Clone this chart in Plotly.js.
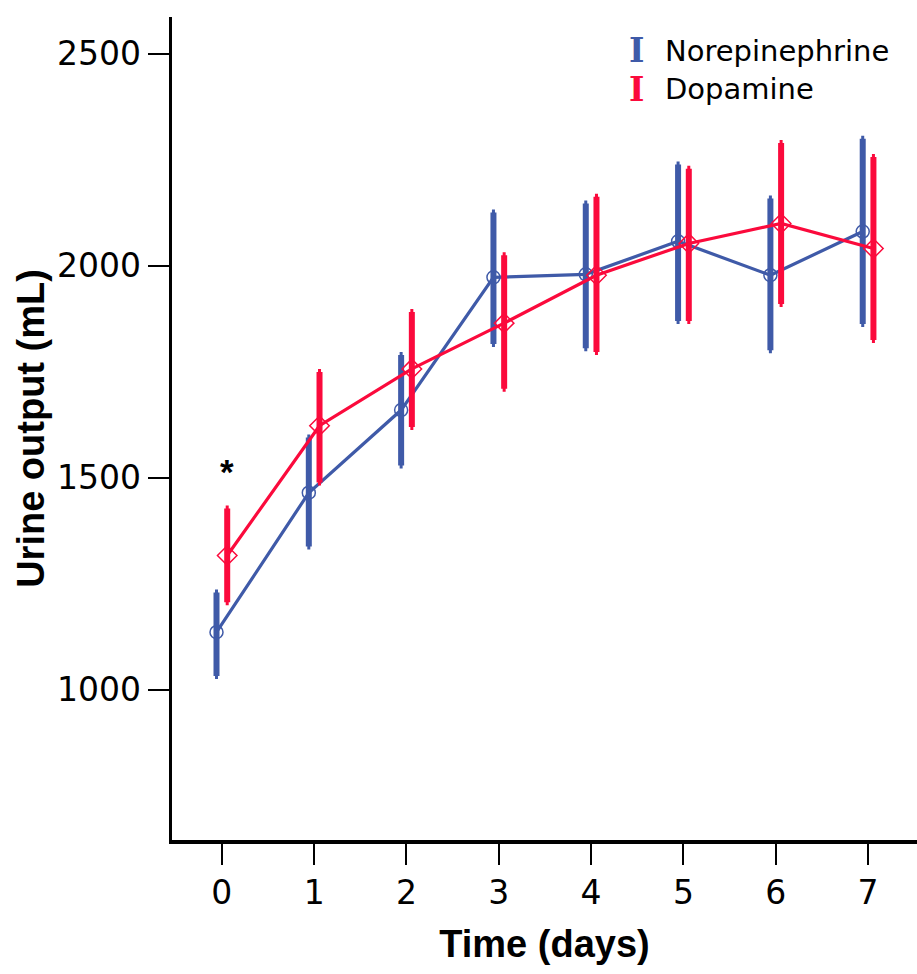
<!DOCTYPE html>
<html>
<head>
<meta charset="utf-8">
<script src="https://cdn.plot.ly/plotly-3.0.1.min.js"></script>
<style>html,body{margin:0;padding:0;background:#fff;}#chart{width:917px;height:974px;}</style>
</head>
<body>
<div id="chart"></div>
<script>
// Data
var days = [0, 1, 2, 3, 4, 5, 6, 7];
var tickLabels = ["0", "1", "2", "3", "4", "5", "6", "7"];
var norepiMean  = [1136, 1465, 1660, 1973, 1980, 2058, 1978, 2081];
var norepiUpper = [1230, 1595, 1790, 2126, 2147, 2239, 2159, 2300];
var norepiLower = [1033, 1338, 1529, 1816, 1806, 1870, 1801, 1863];
var dopaMean  = [1317, 1623, 1757, 1865, 1978, 2053, 2100, 2041];
var dopaUpper = [1428, 1750, 1891, 2025, 2163, 2229, 2290, 2257];
var dopaLower = [1207, 1489, 1620, 1710, 1797, 1870, 1910, 1825];
var seriesNames = ["Norepinephrine", "Dopamine"];
var significantDay = 0;

var BLUE = "#3f5aa8", RED = "#fb0a3c";
var dodge = 0.058;

function plus(u, m) { return u.map(function (v, i) { return v - m[i]; }); }
function minus(l, m) { return l.map(function (v, i) { return m[i] - v; }); }

var tNor = {
  x: days.map(function (d) { return d - dodge; }),
  y: norepiMean,
  name: seriesNames[0],
  type: "scatter",
  mode: "lines+markers",
  line: { color: BLUE, width: 3.2 },
  marker: { symbol: "circle-open", size: 13, color: BLUE, line: { width: 1.5, color: BLUE } },
  error_y: { type: "data", symmetric: false, array: plus(norepiUpper, norepiMean), arrayminus: minus(norepiLower, norepiMean), color: BLUE, thickness: 6, width: 1.5 },
  showlegend: false
};
var tDop = {
  x: days.map(function (d) { return d + dodge; }),
  y: dopaMean,
  name: seriesNames[1],
  type: "scatter",
  mode: "lines+markers",
  line: { color: RED, width: 3.2 },
  marker: { symbol: "diamond-open", size: 15, color: RED, line: { width: 1.5, color: RED } },
  error_y: { type: "data", symmetric: false, array: plus(dopaUpper, dopaMean), arrayminus: minus(dopaLower, dopaMean), color: RED, thickness: 6, width: 1.5 },
  showlegend: false
};

var legendY = [0.959, 0.912];
var legendColors = [BLUE, RED];
var legendAnn = [];
seriesNames.forEach(function (name, i) {
  legendAnn.push({ xref: "paper", yref: "paper", x: 0.624, y: legendY[i], xanchor: "center", yanchor: "middle", showarrow: false,
    text: "<b>I</b>", font: { family: "DejaVu Serif, serif", size: 33, color: legendColors[i] } });
  legendAnn.push({ xref: "paper", yref: "paper", x: 0.659, y: legendY[i], xanchor: "left", yanchor: "middle", showarrow: false,
    text: name, font: { family: "DejaVu Sans, sans-serif", size: 29, color: "#000" } });
});

var layout = {
  width: 917, height: 974,
  margin: { l: 172, r: 0, t: 17, b: 134 },
  paper_bgcolor: "#fff", plot_bgcolor: "#fff",
  showlegend: false,
  font: { family: "Liberation Sans, Arial, sans-serif", color: "#000" },
  xaxis: {
    range: [-0.54, 7.53],
    tickmode: "array", tickvals: days, ticktext: tickLabels,
    showgrid: false, zeroline: false,
    showline: true, linecolor: "#000", linewidth: 3.5,
    ticks: "outside", ticklen: 21, tickwidth: 2, tickcolor: "#000",
    tickfont: { family: "DejaVu Sans, sans-serif", size: 33, color: "#000" },
    title: { text: "<b>Time (days)</b>", font: { family: "Liberation Sans, Arial, sans-serif", size: 38, color: "#000" }, standoff: 20 }
  },
  yaxis: {
    range: [646, 2587],
    tickmode: "array", tickvals: [1000, 1500, 2000, 2500],
    showgrid: false, zeroline: false,
    showline: true, linecolor: "#000", linewidth: 3.5,
    ticks: "outside", ticklen: 21, tickwidth: 2, tickcolor: "#000",
    tickfont: { family: "DejaVu Sans, sans-serif", size: 33, color: "#000" },
    title: { text: "<b>Urine output (mL)</b>", font: { family: "Liberation Sans, Arial, sans-serif", size: 38, color: "#000" }, standoff: 1 }
  },
  annotations: [
    { xref: "x", yref: "y", x: significantDay + dodge, y: 1515, text: "<b>*</b>", showarrow: false,
      font: { family: "Liberation Sans, Arial, sans-serif", size: 35, color: "#000" }, xanchor: "center", yanchor: "middle" }
  ].concat(legendAnn)
};

Plotly.newPlot("chart", [tNor, tDop], layout, { staticPlot: true, displayModeBar: false });
</script>
</body>
</html>
